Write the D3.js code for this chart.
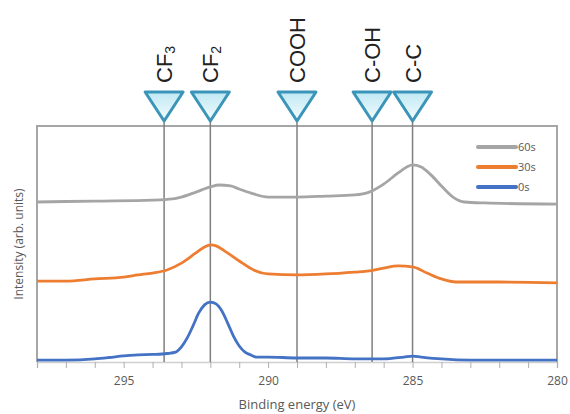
<!DOCTYPE html>
<html>
<head>
<meta charset="utf-8">
<script src="https://d3js.org/d3.v7.min.js"></script>
<style>
  body { margin: 0; background: #fff; }
  text { font-family: "Open Sans", "Liberation Sans", sans-serif; }
</style>
</head>
<body>
<div id="chart"></div>
<script>
// binding energies (eV) and intensities (arb. units)
var energy0 = [298, 297, 296, 295.5, 295, 294.5, 294, 293.5, 293.2, 293, 292.8, 292.6, 292.4, 292.2, 292, 291.8, 291.6, 291.4, 291.2, 291, 290.8, 290.6, 290.4, 290, 289, 288, 287, 286, 285.3, 285, 284.7, 284, 283, 280];
var int0s   = [0.8, 0.8, 1.3, 1.9, 2.6, 3.0, 3.2, 3.6, 4.2, 6.4, 10.2, 15.3, 20.8, 24.2, 25.4, 24.6, 21.6, 16.5, 11.0, 6.8, 4.2, 3.0, 2.1, 2.1, 1.7, 1.7, 1.3, 1.3, 2.1, 2.5, 2.1, 1.3, 0.8, 0.8];

var energy30 = [298, 297, 296, 295, 294.5, 294, 293.5, 293, 292.5, 292.2, 292, 291.8, 291.5, 291, 290.5, 290, 289, 288, 287, 286.5, 286, 285.5, 285, 284.5, 284, 283.5, 283, 282, 280];
var int30s   = [34.3, 34.3, 35.2, 36.0, 36.9, 37.7, 39.0, 41.9, 46.2, 48.7, 49.6, 49.2, 47.0, 42.8, 39.0, 37.3, 36.9, 37.3, 38.1, 38.6, 39.8, 40.7, 40.3, 37.7, 35.2, 33.9, 33.9, 33.9, 33.5];

var energy60 = [298, 296, 294, 293.3, 293, 292.5, 292, 291.7, 291.3, 291, 290.5, 290, 289, 288, 287, 286.5, 286, 285.5, 285.2, 285, 284.7, 284.4, 284, 283.6, 283.2, 282.5, 280];
var int60s   = [67.8, 68.2, 68.6, 69.1, 69.9, 72.0, 74.2, 75.0, 74.6, 73.3, 71.2, 69.9, 69.9, 70.3, 70.8, 72.0, 75.4, 80.1, 82.6, 83.5, 82.6, 79.7, 74.6, 69.9, 67.8, 67.4, 66.9];

var seriesNames = ["60s", "30s", "0s"];
var seriesColors = ["#a5a5a5", "#ed7d31", "#4472c4"];

var peakNames = ["CF", "CF", "COOH", "C-OH", "C-C"];
var peakSubs  = ["3", "2", "", "", ""];
var peakEnergy = [293.6, 292.0, 289.0, 286.4, 285.0];

var xTickLabels = [295, 290, 285, 280];

var W = 570, H = 414;
var margin = {top: 126, right: 13, bottom: 52, left: 37};

var svg = d3.select("#chart").append("svg")
  .attr("width", W).attr("height", H);

var x = d3.scaleLinear().domain([298, 280]).range([margin.left, W - margin.right]);
var y = d3.scaleLinear().domain([0, 100]).range([H - margin.bottom, margin.top]);

var x0 = margin.left, x1 = W - margin.right, yTop = margin.top, yBot = H - margin.bottom;

// minor ticks every 1 eV under the axis
svg.append("g")
  .attr("transform", "translate(0," + yBot + ")")
  .call(d3.axisBottom(x).tickValues(d3.range(280, 299, 1)).tickSize(6).tickFormat(""))
  .call(function(g) {
    g.select(".domain").attr("stroke", "#d0d0d0").attr("stroke-width", 1.5);
    g.selectAll(".tick line").attr("stroke", "#b0b0b0");
  });

// tick labels
svg.append("g")
  .attr("transform", "translate(0," + yBot + ")")
  .call(d3.axisBottom(x).tickValues(xTickLabels).tickSize(0).tickPadding(14).tickFormat(d3.format("d")))
  .call(function(g) {
    g.select(".domain").remove();
    g.selectAll("text").attr("fill", "#595959").style("font-size", "12px")
      .style("font-family", "'Open Sans', sans-serif");
  });

// frame (left, top, right)
svg.append("path")
  .attr("d", "M" + x0 + "," + yBot + "V" + yTop + "H" + x1 + "V" + yBot)
  .attr("fill", "none").attr("stroke", "#a6a6a6").attr("stroke-width", 2);

// peak marker lines
svg.selectAll(".peakline").data(peakEnergy).enter().append("line")
  .attr("x1", function(d) { return x(d); }).attr("x2", function(d) { return x(d); })
  .attr("y1", 121).attr("y2", yBot)
  .attr("stroke", "#7f7f7f").attr("stroke-width", 1.5);

// spectra
var line = d3.line()
  .x(function(d) { return x(d[0]); })
  .y(function(d) { return y(d[1]); })
  .curve(d3.curveMonotoneX);

var spectra = [d3.zip(energy60, int60s), d3.zip(energy30, int30s), d3.zip(energy0, int0s)];
svg.selectAll(".spec").data(spectra).enter().append("path")
  .attr("d", line)
  .attr("fill", "none")
  .attr("stroke", function(d, i) { return seriesColors[i]; })
  .attr("stroke-width", 2.8)
  .attr("stroke-linejoin", "round");

// triangles
var defs = svg.append("defs");
var grad = defs.append("linearGradient").attr("id", "tri").attr("x1", 0).attr("y1", 0).attr("x2", 0).attr("y2", 1);
grad.append("stop").attr("offset", "0%").attr("stop-color", "#bfe8f3");
grad.append("stop").attr("offset", "100%").attr("stop-color", "#f4fcfe");

svg.selectAll(".tri").data(peakEnergy).enter().append("path")
  .attr("d", function(d) {
    var cx = x(d);
    return "M" + (cx - 19) + ",92L" + (cx + 19) + ",92L" + cx + ",121Z";
  })
  .attr("fill", "url(#tri)")
  .attr("stroke", "#3a95b9")
  .attr("stroke-width", 3)
  .attr("stroke-linejoin", "round");

// peak labels (rotated)
var lab = svg.selectAll(".plab").data(peakEnergy).enter().append("text")
  .attr("transform", function(d) { return "translate(" + (x(d) + 8) + ",83) rotate(-90)"; })
  .attr("fill", "#222")
  .style("font-size", "22px")
  .style("font-family", "'Liberation Sans', Arial, sans-serif");
lab.append("tspan").text(function(d, i) { return peakNames[i]; });
lab.append("tspan").attr("dy", 3).style("font-size", "14px")
  .text(function(d, i) { return peakSubs[i]; });

// legend
var leg = svg.selectAll(".leg").data(seriesNames).enter().append("g")
  .attr("transform", function(d, i) { return "translate(478," + (147 + i * 20) + ")"; });
leg.append("line").attr("x1", 0).attr("x2", 38)
  .attr("stroke", function(d, i) { return seriesColors[i]; })
  .attr("stroke-width", 4).attr("stroke-linecap", "round");
leg.append("text").attr("x", 40).attr("dy", "0.35em")
  .attr("fill", "#595959").style("font-size", "11px").text(function(d) { return d; });

// axis titles
svg.append("text")
  .attr("x", (x0 + x1) / 2).attr("y", 409)
  .attr("text-anchor", "middle").attr("fill", "#595959")
  .style("font-size", "13px").text("Binding energy (eV)");

svg.append("text")
  .attr("transform", "translate(23," + ((yTop + yBot) / 2) + ") rotate(-90)")
  .attr("text-anchor", "middle").attr("fill", "#595959")
  .style("font-size", "12px").text("Intensity (arb. units)");
</script>
</body>
</html>
